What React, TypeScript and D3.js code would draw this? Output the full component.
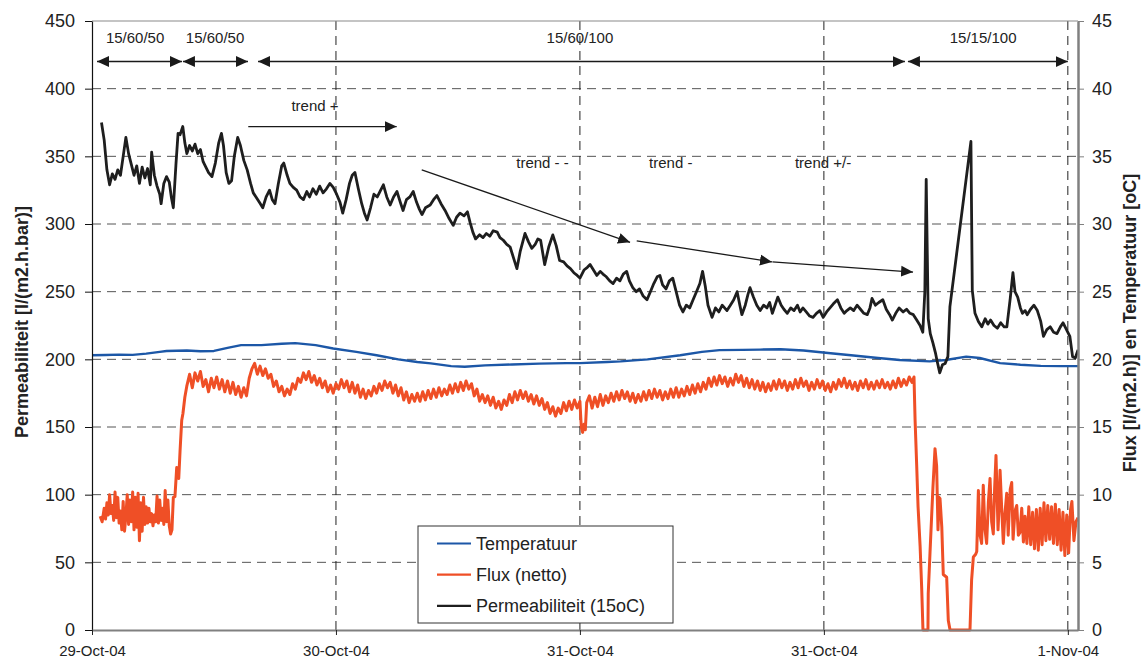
import React, { useEffect, useRef } from 'react';
import * as d3 from 'd3';

// time in hours since 29-Oct-04 00:00
const dateTicks = [0, 18, 36, 54, 72];
const dateLabels = ['29-Oct-04', '30-Oct-04', '31-Oct-04', '31-Oct-04', '1-Nov-04'];
const leftTicks = [0, 50, 100, 150, 200, 250, 300, 350, 400, 450];
const rightTicks = [0, 5, 10, 15, 20, 25, 30, 35, 40, 45];

const legendItems = [
  { label: 'Temperatuur', color: '#1C57A7' },
  { label: 'Flux (netto)', color: '#EF4F26' },
  { label: 'Permeabiliteit (15oC)', color: '#1E1E1E' },
];

// [hour, oC]
const temperatuur: [number, number][] = [
  [0, 20.3], [1, 20.32], [2, 20.35], [3, 20.33], [4, 20.42], [5, 20.55], [5.5, 20.62], [7, 20.65], [8, 20.6], [9, 20.62],
  [10, 20.85], [11, 21.05], [12.5, 21.05], [14, 21.15], [15, 21.2], [16.5, 21.05], [17.8, 20.8], [19.5, 20.55], [21, 20.3],
  [22.6, 20.0], [24, 19.8], [25, 19.7], [26.5, 19.5], [27.5, 19.45], [29, 19.55], [31, 19.62], [33, 19.68], [35, 19.72],
  [36, 19.72], [38, 19.8], [39, 19.85], [41, 20.0], [43.4, 20.3], [45, 20.55], [46.3, 20.68], [48, 20.7], [49.3, 20.72],
  [50.8, 20.74], [52.5, 20.65], [54.5, 20.45], [56, 20.3], [58, 20.1], [59.6, 19.95], [61.8, 19.85], [63, 19.95],
  [64.5, 20.2], [65.5, 20.1], [67, 19.72], [68.5, 19.6], [70, 19.52], [71.5, 19.5], [72.75, 19.5],
];

// [hour, l/(m2.h)]
const flux: [number, number][] = [
  [0.6, 8.4], [0.75, 8.0], [0.9, 9.0], [1.0, 8.2], [1.1, 9.4], [1.2, 8.5], [1.3, 10.0], [1.4, 8.6], [1.5, 9.2], [1.6, 8.1],
  [1.7, 10.2], [1.8, 8.3], [1.9, 9.8], [2.0, 7.9], [2.1, 8.8], [2.2, 7.4], [2.3, 9.5], [2.4, 7.3], [2.5, 8.4], [2.6, 10.0],
  [2.7, 7.8], [2.8, 9.6], [2.9, 8.0], [3.0, 10.2], [3.1, 7.4], [3.2, 9.8], [3.3, 7.6], [3.4, 10.1], [3.5, 6.6], [3.6, 9.4],
  [3.7, 7.3], [3.8, 9.8], [3.9, 7.8], [4.0, 9.1], [4.1, 7.9], [4.2, 9.0], [4.3, 8.0], [4.4, 8.6], [4.5, 7.7], [4.6, 8.5],
  [4.7, 8.0], [4.8, 9.9], [4.9, 7.9], [5.0, 9.6], [5.1, 8.1], [5.2, 9.0], [5.3, 7.8], [5.4, 10.3], [5.5, 8.0], [5.6, 9.6],
  [5.7, 7.7], [5.8, 7.1], [5.9, 7.4], [6.0, 9.8], [6.12, 9.85], [6.25, 12.0], [6.4, 11.2], [6.5, 13.3], [6.62, 15.5],
  [6.71, 16.0], [6.85, 17.2], [6.99, 18.0], [7.2, 18.9], [7.4, 17.9], [7.6, 19.0], [7.8, 18.4], [8.0, 19.1], [8.2, 18.0],
  [8.4, 18.5], [8.6, 17.6], [8.8, 18.6], [9.0, 17.9], [9.2, 18.7], [9.4, 17.8], [9.6, 18.5], [9.8, 17.6], [10.0, 18.4],
  [10.2, 17.5], [10.4, 18.3], [10.6, 17.4], [10.8, 18.0], [11.0, 17.2], [11.2, 17.9], [11.4, 17.3], [11.6, 18.6],
  [11.8, 19.3], [12.0, 19.7], [12.2, 18.9], [12.4, 19.5], [12.6, 18.8], [12.8, 19.3], [13.0, 18.6], [13.2, 18.9],
  [13.4, 18.0], [13.6, 18.4], [13.8, 17.6], [14.0, 18.0], [14.2, 17.3], [14.4, 17.8], [14.6, 17.4], [14.8, 18.2],
  [15.0, 17.8], [15.2, 18.6], [15.4, 18.3], [15.6, 19.0], [15.8, 18.5], [16.0, 19.1], [16.2, 18.3], [16.4, 18.8],
  [16.6, 18.1], [16.8, 18.6], [17.0, 17.9], [17.2, 18.4], [17.4, 17.6], [17.6, 18.1], [17.8, 17.5], [18.0, 18.2],
  [18.2, 17.8], [18.4, 18.5], [18.6, 17.9], [18.8, 18.4], [19.0, 17.6], [19.2, 18.3], [19.4, 17.5], [19.6, 18.1],
  [19.8, 17.2], [20.0, 17.8], [20.2, 17.1], [20.4, 17.7], [20.6, 17.3], [20.8, 18.0], [21.0, 17.5], [21.2, 18.2],
  [21.4, 17.7], [21.6, 18.4], [21.8, 17.9], [22.0, 18.3], [22.2, 17.5], [22.4, 18.1], [22.6, 17.3], [22.8, 17.9],
  [23.0, 17.0], [23.2, 17.6], [23.4, 16.8], [23.6, 17.4], [23.8, 16.9], [24.0, 17.5], [24.2, 16.9], [24.4, 17.6],
  [24.6, 17.0], [24.8, 17.7], [25.0, 17.1], [25.2, 17.8], [25.4, 17.2], [25.6, 17.9], [25.8, 17.3], [26.0, 17.8],
  [26.2, 17.4], [26.4, 18.1], [26.6, 17.5], [26.8, 18.2], [27.0, 17.6], [27.2, 18.3], [27.4, 17.7], [27.6, 18.4],
  [27.8, 17.8], [28.0, 18.2], [28.2, 17.3], [28.4, 17.8], [28.6, 16.9], [28.8, 17.4], [29.0, 16.8], [29.2, 17.3],
  [29.4, 16.6], [29.6, 17.2], [29.8, 16.4], [30.0, 16.9], [30.2, 16.3], [30.4, 17.0], [30.6, 16.6], [30.8, 17.4],
  [31.0, 16.8], [31.2, 17.6], [31.4, 17.0], [31.6, 17.7], [31.8, 17.1], [32.0, 17.6], [32.2, 16.9], [32.4, 17.4],
  [32.6, 16.7], [32.8, 17.3], [33.0, 16.6], [33.2, 17.1], [33.4, 16.3], [33.6, 16.8], [33.8, 16.0], [34.0, 16.5],
  [34.2, 15.8], [34.4, 16.4], [34.6, 16.0], [34.8, 16.8], [35.0, 16.2], [35.2, 16.9], [35.4, 16.3], [35.6, 17.0],
  [35.8, 16.4], [36.0, 16.9], [36.1, 15.0], [36.2, 14.6], [36.3, 15.2], [36.4, 14.8], [36.5, 16.8], [36.7, 17.3],
  [36.9, 16.4], [37.1, 17.2], [37.3, 16.5], [37.5, 17.4], [37.7, 16.6], [37.9, 17.3], [38.1, 16.8], [38.3, 17.5],
  [38.5, 16.9], [38.7, 17.6], [38.9, 17.0], [39.1, 17.7], [39.3, 17.1], [39.5, 17.6], [39.7, 16.9], [39.9, 17.5],
  [40.1, 16.8], [40.3, 17.4], [40.5, 16.9], [40.7, 17.6], [40.9, 17.0], [41.1, 17.7], [41.3, 17.1], [41.5, 17.8],
  [41.7, 17.2], [41.9, 17.7], [42.1, 17.0], [42.3, 17.6], [42.5, 17.1], [42.7, 17.8], [42.9, 17.2], [43.1, 17.9],
  [43.3, 17.2], [43.5, 17.8], [43.7, 17.3], [43.9, 18.0], [44.1, 17.4], [44.3, 18.1], [44.5, 17.5], [44.7, 18.2],
  [44.9, 17.6], [45.1, 18.3], [45.3, 17.8], [45.5, 18.6], [45.7, 18.0], [45.9, 18.7], [46.1, 18.1], [46.3, 18.8],
  [46.5, 18.2], [46.7, 18.7], [46.9, 18.0], [47.1, 18.6], [47.3, 18.1], [47.5, 18.9], [47.7, 18.3], [47.9, 18.8],
  [48.1, 18.0], [48.3, 18.6], [48.5, 17.9], [48.7, 18.5], [48.9, 17.8], [49.1, 18.4], [49.3, 17.7], [49.5, 18.3],
  [49.7, 17.6], [49.9, 18.2], [50.1, 17.7], [50.3, 18.4], [50.5, 17.8], [50.7, 18.5], [50.9, 17.9], [51.1, 18.4],
  [51.3, 17.7], [51.5, 18.3], [51.7, 17.8], [51.9, 18.5], [52.1, 17.9], [52.3, 18.6], [52.5, 18.0], [52.7, 18.4],
  [52.9, 17.7], [53.1, 18.3], [53.3, 17.8], [53.5, 18.5], [53.7, 17.9], [53.9, 18.4], [54.1, 17.7], [54.3, 18.2],
  [54.5, 17.6], [54.7, 18.3], [54.9, 17.8], [55.1, 18.5], [55.3, 18.0], [55.5, 18.6], [55.7, 17.9], [55.9, 18.4],
  [56.1, 17.8], [56.3, 18.3], [56.5, 17.7], [56.7, 18.4], [56.9, 17.9], [57.1, 18.5], [57.3, 17.8], [57.5, 18.3],
  [57.7, 17.8], [57.9, 18.4], [58.1, 17.9], [58.3, 18.5], [58.5, 17.9], [58.7, 18.3], [58.9, 17.8], [59.1, 18.4],
  [59.3, 17.9], [59.5, 18.6], [59.7, 18.0], [59.9, 18.5], [60.1, 18.1], [60.3, 18.7], [60.5, 18.3], [60.65, 18.7],
  [60.73, 15.5], [60.85, 12.1], [60.95, 9.1], [61.1, 6.2], [61.22, 3.0], [61.31, 0], [61.68, 0], [61.7, 2.7],
  [61.83, 5.7], [61.95, 8.4], [62.05, 10.6], [62.2, 13.4], [62.32, 12.1], [62.42, 7.4], [62.5, 9.8], [62.57, 9.7],
  [62.7, 7.6], [62.81, 4.1], [63.06, 3.9], [63.18, 0.7], [63.31, 0], [64.78, 0], [64.9, 3.7], [65.03, 5.4],
  [65.2, 5.6], [65.28, 5.8], [65.4, 10.3], [65.52, 7.0], [65.64, 6.4], [65.76, 10.7], [65.88, 7.5], [66.01, 6.4],
  [66.14, 9.5], [66.26, 11.2], [66.38, 8.0], [66.5, 7.1], [66.6, 10.5], [66.7, 12.9], [66.85, 7.4], [66.92, 9.0],
  [67.0, 11.8], [67.12, 9.0], [67.24, 6.4], [67.36, 8.6], [67.49, 10.1], [67.6, 7.0], [67.75, 10.4], [67.86, 10.9],
  [67.96, 6.7], [68.1, 8.8], [68.23, 9.2], [68.35, 7.0], [68.47, 7.2], [68.6, 9.0], [68.72, 6.5], [68.84, 8.4],
  [68.98, 6.4], [69.12, 9.1], [69.26, 6.3], [69.4, 8.7], [69.54, 6.0], [69.68, 8.9], [69.82, 5.9], [69.96, 9.0],
  [70.1, 6.3], [70.24, 9.4], [70.38, 6.6], [70.52, 9.2], [70.66, 6.7], [70.8, 9.1], [70.94, 6.4], [71.08, 9.3],
  [71.22, 6.3], [71.36, 8.9], [71.5, 5.9], [71.64, 8.7], [71.78, 5.5], [71.92, 8.5], [72.06, 5.7], [72.2, 8.9],
  [72.3, 9.5], [72.45, 6.6], [72.6, 8.0], [72.75, 8.3],
];

// [hour, l/(m2.h.bar)]
const permeabiliteit: [number, number][] = [
  [0.7, 375], [0.9, 362], [1.1, 340], [1.3, 329], [1.5, 337], [1.7, 333], [1.9, 340], [2.1, 336], [2.3, 350], [2.5, 364],
  [2.7, 352], [2.9, 344], [3.1, 336], [3.3, 343], [3.5, 330], [3.7, 342], [3.9, 334], [4.1, 341], [4.3, 329], [4.4, 353],
  [4.6, 336], [4.8, 328], [5.0, 322], [5.1, 315], [5.3, 330], [5.5, 335], [5.7, 331], [5.85, 320], [6.0, 312], [6.2, 345],
  [6.35, 367], [6.5, 366], [6.7, 372], [6.85, 360], [7.0, 352], [7.2, 358], [7.4, 354], [7.6, 359], [7.8, 352], [8.0, 355],
  [8.2, 346], [8.4, 342], [8.6, 338], [8.85, 335], [9.1, 345], [9.35, 360], [9.55, 367], [9.7, 358], [9.9, 338], [10.1, 330],
  [10.3, 332], [10.5, 350], [10.75, 364], [10.95, 358], [11.2, 347], [11.45, 340], [11.7, 330], [11.9, 323], [12.1, 320],
  [12.35, 316], [12.6, 312], [12.85, 320], [13.1, 325], [13.3, 318], [13.5, 315], [13.75, 330], [14.0, 343], [14.15, 345],
  [14.4, 336], [14.6, 330], [14.85, 327], [15.1, 325], [15.35, 320], [15.6, 318], [15.85, 324], [16.05, 320], [16.3, 326],
  [16.55, 322], [16.8, 328], [17.05, 323], [17.3, 326], [17.55, 330], [17.8, 327], [18.05, 322], [18.3, 316], [18.5, 308],
  [18.75, 318], [19.0, 330], [19.2, 336], [19.4, 338], [19.65, 326], [19.9, 315], [20.1, 308], [20.3, 303], [20.55, 312],
  [20.8, 322], [21.05, 320], [21.3, 325], [21.5, 329], [21.75, 320], [22.0, 314], [22.25, 320], [22.5, 324], [22.75, 316],
  [22.95, 310], [23.2, 318], [23.45, 320], [23.7, 324], [23.95, 316], [24.15, 311], [24.35, 307], [24.6, 312], [24.95, 314],
  [25.2, 318], [25.45, 321], [25.75, 315], [26.05, 310], [26.35, 304], [26.65, 299], [26.9, 305], [27.15, 308], [27.45, 306],
  [27.7, 309], [27.9, 301], [28.1, 294], [28.3, 289], [28.6, 292], [28.85, 290], [29.1, 293], [29.35, 291], [29.6, 295],
  [29.9, 294], [30.1, 290], [30.35, 288], [30.6, 285], [30.85, 283], [31.1, 275], [31.35, 267], [31.6, 280], [31.95, 293],
  [32.2, 287], [32.45, 282], [32.7, 285], [32.9, 289], [33.1, 288], [33.4, 270], [33.7, 283], [34.0, 292], [34.25, 284],
  [34.5, 273], [34.8, 272], [35.05, 269], [35.3, 267], [35.55, 264], [35.8, 262], [36.0, 260], [36.3, 266], [36.55, 268],
  [36.75, 270], [37.0, 266], [37.25, 262], [37.5, 265], [37.7, 263], [37.95, 261], [38.2, 258], [38.45, 256], [38.7, 260],
  [38.95, 258], [39.2, 263], [39.45, 265], [39.65, 258], [39.9, 253], [40.15, 250], [40.4, 252], [40.65, 247], [40.95, 244],
  [41.2, 250], [41.45, 256], [41.7, 261], [41.9, 262], [42.1, 255], [42.35, 252], [42.6, 258], [42.85, 260], [43.1, 250],
  [43.35, 240], [43.6, 235], [43.85, 240], [44.1, 238], [44.35, 244], [44.6, 250], [44.85, 256], [45.05, 265], [45.25, 254],
  [45.45, 240], [45.75, 231], [46.0, 238], [46.25, 235], [46.5, 240], [46.85, 236], [47.1, 240], [47.35, 244], [47.6, 250],
  [47.8, 240], [47.95, 233], [48.2, 240], [48.4, 248], [48.55, 253], [48.8, 246], [49.05, 240], [49.3, 236], [49.55, 240],
  [49.8, 238], [50.0, 242], [50.2, 234], [50.4, 240], [50.6, 246], [50.85, 240], [51.05, 237], [51.3, 234], [51.55, 238],
  [51.8, 236], [52.05, 240], [52.25, 235], [52.45, 238], [52.7, 235], [52.95, 232], [53.2, 231], [53.45, 234], [53.7, 236],
  [53.95, 231], [54.2, 235], [54.45, 238], [54.7, 241], [55.0, 244], [55.25, 238], [55.5, 234], [55.7, 236], [55.95, 238],
  [56.2, 236], [56.45, 240], [56.7, 237], [56.95, 234], [57.2, 233], [57.4, 238], [57.55, 245], [57.8, 240], [58.05, 242],
  [58.35, 244], [58.6, 237], [58.85, 233], [59.05, 229], [59.3, 234], [59.55, 238], [59.85, 235], [60.1, 237], [60.35, 234],
  [60.6, 233], [60.85, 229], [61.1, 225], [61.3, 220], [61.45, 250], [61.55, 333], [61.7, 230], [61.85, 219], [62.05, 212],
  [62.25, 204], [62.35, 199], [62.55, 190], [62.75, 196], [62.95, 197], [63.15, 202], [63.3, 239], [64.85, 361], [64.95, 251],
  [65.15, 234], [65.4, 228], [65.65, 224], [65.9, 230], [66.1, 226], [66.3, 229], [66.55, 225], [66.8, 223], [67.05, 227],
  [67.3, 224], [67.5, 224], [67.75, 245], [67.95, 264], [68.1, 250], [68.3, 246], [68.5, 238], [68.65, 234], [68.85, 236],
  [69.0, 233], [69.25, 237], [69.5, 240], [69.75, 236], [70.0, 228], [70.2, 217], [70.45, 222], [70.7, 224], [70.95, 220],
  [71.2, 219], [71.45, 224], [71.65, 227], [71.9, 222], [72.15, 217], [72.35, 202], [72.55, 201], [72.75, 207],
];

// operating phases (double arrows across the top)
const phases = [
  { label: '15/60/50', from: 0.37, to: 6.64, labelAt: 3.18 },
  { label: '15/60/50', from: 6.71, to: 11.51, labelAt: 9.08 },
  { label: '15/60/100', from: 12.25, to: 59.98, labelAt: 36.0 },
  { label: '15/15/100', from: 60.2, to: 72.0, labelAt: 65.75 },
];

const trendArrows: [number, number, number, number][] = [
  [11.53, 372, 22.48, 372],
  [24.33, 340, 39.7, 286.5],
  [40.19, 287.5, 50.17, 272],
  [50.2, 272, 60.58, 264.5],
];

const trendLabels = [
  { text: 'trend +', h: 16.45, v: 383.5 },
  { text: 'trend - -', h: 33.24, v: 341.5 },
  { text: 'trend -', h: 42.7, v: 341.5 },
  { text: 'trend +/-', h: 53.94, v: 341.5 },
];

const FONT = '"Liberation Sans", Arial, Helvetica, sans-serif';

const App = () => {
  const svgRef = useRef<SVGSVGElement>(null);

  useEffect(() => {
    const svg = d3.select(svgRef.current);
    svg.selectAll('*').remove();

    const x = d3.scaleLinear().domain([0, 72.75]).range([92, 1078]);
    const yL = d3.scaleLinear().domain([0, 450]).range([630, 21]);
    const yR = d3.scaleLinear().domain([0, 45]).range([630, 21]);

    svg.append('rect').attr('width', 1144).attr('height', 660).attr('fill', '#fff');

    const defs = svg.append('defs');
    defs.append('marker')
      .attr('id', 'arr')
      .attr('markerUnits', 'userSpaceOnUse')
      .attr('markerWidth', 13).attr('markerHeight', 12)
      .attr('refX', 12).attr('refY', 6)
      .attr('orient', 'auto-start-reverse')
      .append('path').attr('d', 'M0,0.5 L12,6 L0,11.5 Z').attr('fill', '#1a1a1a');
    defs.append('clipPath').attr('id', 'plot')
      .append('rect').attr('x', 92).attr('y', 21).attr('width', 986).attr('height', 611);

    // grid
    svg.append('g').selectAll('line')
      .data(leftTicks.filter(d => d > 0 && d < 450))
      .enter().append('line')
      .attr('x1', 92).attr('x2', 1078)
      .attr('y1', d => yL(d)).attr('y2', d => yL(d))
      .attr('stroke', '#555').attr('stroke-width', 1).attr('stroke-dasharray', '9,6');
    svg.append('g').selectAll('line')
      .data(dateTicks.slice(1))
      .enter().append('line')
      .attr('x1', d => x(d)).attr('x2', d => x(d))
      .attr('y1', 21).attr('y2', 630)
      .attr('stroke', '#222').attr('stroke-width', 1).attr('stroke-dasharray', '9,6');
    svg.append('line')
      .attr('x1', 92).attr('x2', 1078).attr('y1', 21).attr('y2', 21)
      .attr('stroke', '#8a8a8a').attr('stroke-width', 1.2);

    // series
    const lineR = d3.line<[number, number]>().x(d => x(d[0])).y(d => yR(d[1]));
    const lineL = d3.line<[number, number]>().x(d => x(d[0])).y(d => yL(d[1]));
    const plot = svg.append('g').attr('clip-path', 'url(#plot)');
    plot.append('path').datum(temperatuur).attr('d', lineR)
      .attr('fill', 'none').attr('stroke', '#1C57A7').attr('stroke-width', 2.4).attr('stroke-linejoin', 'round');
    plot.append('path').datum(flux).attr('d', lineR)
      .attr('fill', 'none').attr('stroke', '#EF4F26').attr('stroke-width', 3).attr('stroke-linejoin', 'round');
    plot.append('path').datum(permeabiliteit).attr('d', lineL)
      .attr('fill', 'none').attr('stroke', '#1E1E1E').attr('stroke-width', 2.8).attr('stroke-linejoin', 'round');

    // axes
    const styleAxis = (g, color, width, size) => {
      g.select('.domain').attr('stroke', color).attr('stroke-width', width);
      g.selectAll('.tick line').attr('stroke', color).attr('stroke-width', 1);
      g.selectAll('.tick text').attr('fill', '#222').attr('font-size', size).attr('font-family', FONT);
    };
    const gL = svg.append('g').attr('transform', 'translate(92,0)')
      .call(d3.axisLeft(yL).tickValues(leftTicks).tickSize(7).tickSizeOuter(0).tickPadding(10));
    styleAxis(gL, '#111', 1.2, 18);

    const gR = svg.append('g').attr('transform', 'translate(1078,0)')
      .call(d3.axisRight(yR).tickValues(rightTicks).tickSize(6).tickSizeOuter(0).tickPadding(8));
    styleAxis(gR, '#808080', 2.5, 18);

    const gB = svg.append('g').attr('transform', 'translate(0,630)')
      .call(d3.axisBottom(x).tickValues(dateTicks).tickFormat((d, i) => dateLabels[i]).tickSize(5).tickSizeOuter(0).tickPadding(10));
    styleAxis(gB, '#808080', 2, 15);
    gB.selectAll('.tick line').attr('stroke', '#222');

    // axis titles
    svg.append('text')
      .attr('transform', 'translate(22,322) rotate(-90)')
      .attr('text-anchor', 'middle').attr('dominant-baseline', 'central')
      .attr('font-family', FONT).attr('font-weight', 'bold').attr('font-size', 18).attr('fill', '#222')
      .text('Permeabiliteit [l/(m2.h.bar)]');
    svg.append('text')
      .attr('transform', 'translate(1130,323) rotate(-90)')
      .attr('text-anchor', 'middle').attr('dominant-baseline', 'central')
      .attr('font-family', FONT).attr('font-weight', 'bold').attr('font-size', 18).attr('fill', '#222')
      .text('Flux [l/(m2.h)] en Temperatuur [oC]');

    // phase arrows
    const ph = svg.append('g');
    ph.selectAll('line').data(phases).enter().append('line')
      .attr('x1', d => x(d.from)).attr('x2', d => x(d.to))
      .attr('y1', yL(420)).attr('y2', yL(420))
      .attr('stroke', '#1a1a1a').attr('stroke-width', 1.5)
      .attr('marker-start', 'url(#arr)').attr('marker-end', 'url(#arr)');
    ph.selectAll('text').data(phases).enter().append('text')
      .attr('x', d => x(d.labelAt)).attr('y', 43)
      .attr('text-anchor', 'middle').attr('font-family', FONT).attr('font-size', 15).attr('fill', '#222')
      .text(d => d.label);

    // trend arrows
    const tr = svg.append('g');
    tr.selectAll('line').data(trendArrows).enter().append('line')
      .attr('x1', d => x(d[0])).attr('y1', d => yL(d[1]))
      .attr('x2', d => x(d[2])).attr('y2', d => yL(d[3]))
      .attr('stroke', '#1a1a1a').attr('stroke-width', 1.3)
      .attr('marker-end', 'url(#arr)');
    tr.selectAll('text').data(trendLabels).enter().append('text')
      .attr('x', d => x(d.h)).attr('y', d => yL(d.v))
      .attr('text-anchor', 'middle').attr('font-family', FONT).attr('font-size', 15).attr('fill', '#222')
      .text(d => d.text);

    // legend
    const lg = svg.append('g');
    lg.append('rect').attr('x', 418).attr('y', 526).attr('width', 255).attr('height', 97)
      .attr('fill', '#fff').attr('stroke', '#333').attr('stroke-width', 1);
    const rows = lg.selectAll('g.row').data(legendItems).enter().append('g')
      .attr('transform', (d, i) => `translate(0,${543.5 + i * 31.2})`);
    rows.append('line').attr('x1', 437).attr('x2', 471).attr('y1', 0).attr('y2', 0)
      .attr('stroke', d => d.color).attr('stroke-width', 2.2);
    rows.append('text').attr('x', 476).attr('y', 0).attr('dy', '0.35em')
      .attr('font-family', FONT).attr('font-size', 18).attr('fill', '#222')
      .text(d => d.label);
  }, []);

  return (
    <svg
      ref={svgRef}
      width={1144}
      height={660}
      style={{ position: 'absolute', left: 0, top: 0, display: 'block' }}
    />
  );
};

export default App;
